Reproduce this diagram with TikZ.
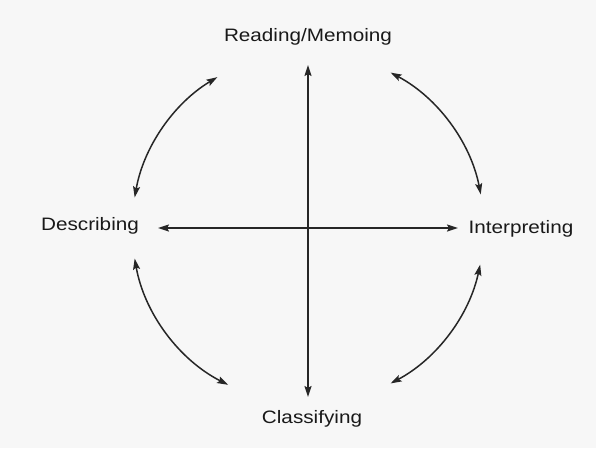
\documentclass[tikz,border=0pt]{standalone}
\usepackage{fontspec}
\newfontfamily\lblfont[FakeStretch=1.15]{Liberation Sans}
\usetikzlibrary{arrows.meta}

\begin{document}
\begin{tikzpicture}[x=1pt, y=1pt, line join=round, line cap=round,
  lbl/.style={font=\lblfont\fontsize{18}{20}\selectfont, text=black!90, anchor=base, inner sep=0pt},
  tip/.style={{Stealth[length=11pt,width=7pt,inset=2pt]}-{Stealth[length=11pt,width=7pt,inset=2pt]}}]

% paper
\fill[black!3] (-308,-220) rectangle (288,228);
\useasboundingbox (-308,-220) rectangle (288,228);

\coordinate (o) at (0,0);

% Labels
\node[lbl] (read) at (0,187) {Reading/Memoing};
\node[lbl] (desc) at (-218,-2) {Describing};
\node[lbl] (interp) at (213,-5) {Interpreting};
\node[lbl] (class) at (4,-195) {Classifying};

% arrow ends of the cross
\coordinate (n) at (0,163);
\coordinate (s) at (0,-169);
\coordinate (w) at (-150,0);
\coordinate (e) at (150,0);

% Cross
\draw[tip, line width=1.7pt, black!85] (n) -- (s);
\draw[tip, line width=1.7pt, black!85] (w) -- (e);

% Arcs between the labels
\draw[tip, line width=1.5pt, black!85] ([shift={(121:176)}]o) arc (121:170:176);
\draw[tip, line width=1.5pt, black!85] ([shift={(11:176)}]o) arc (11:62:176);
\draw[tip, line width=1.5pt, black!85] ([shift={(190:176)}]o) arc (190:243:176);
\draw[tip, line width=1.5pt, black!85] ([shift={(298:176)}]o) arc (298:348:176);

\end{tikzpicture}
\end{document}
